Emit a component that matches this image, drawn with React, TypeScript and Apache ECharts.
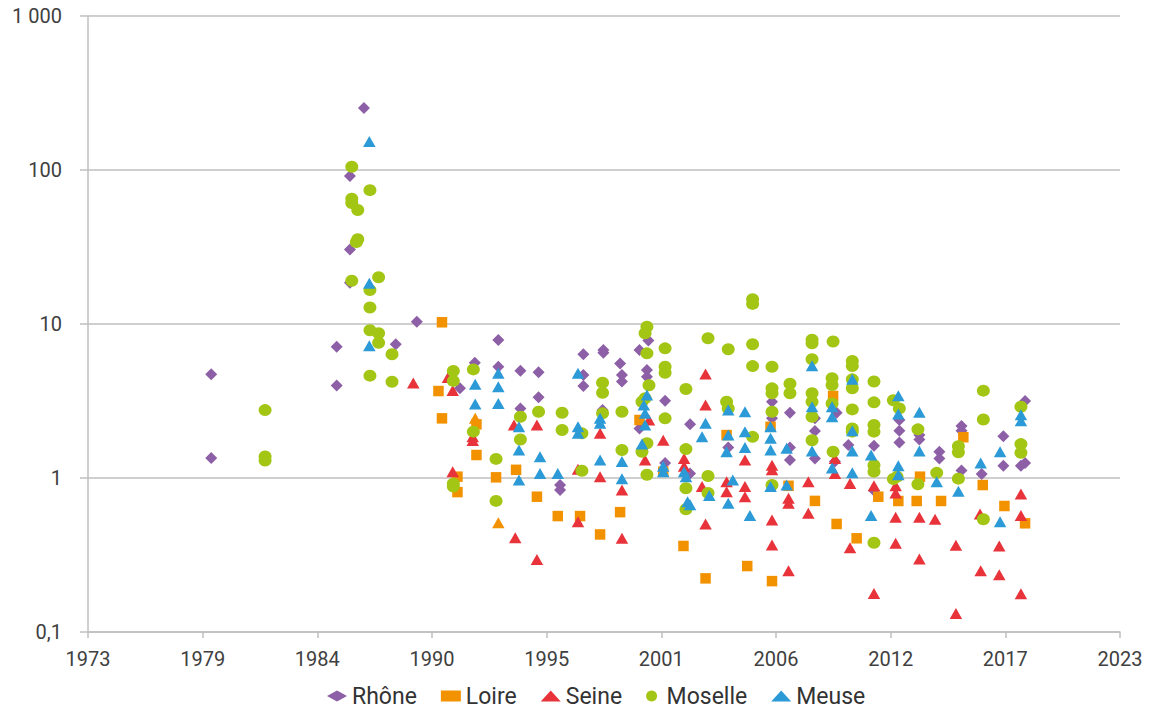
import React, { useEffect, useRef } from "react";
import * as echarts from "echarts";

// Concentration readings per river basin, [year, value] (log scale)
const X_TICK_LABELS = ["1973", "1979", "1984", "1990", "1995", "2001", "2006", "2012", "2017", "2023"];
const X_START = 1973;
const X_END = 2023;
const Y_TICK_LABELS = ["0,1", "1", "10", "100", "1 000"];

const SERIES_NAMES = ["Rhône", "Loire", "Seine", "Moselle", "Meuse"];
const SERIES_COLORS = ["#8d5fa6", "#f39200", "#e8333b", "#a3c614", "#2b9ad6"];

const RHONE: [number, number][] = [
  [1978.97, 4.71], [1978.97, 1.35],
  [1985.05, 7.12], [1985.05, 3.98],
  [1985.69, 91.4], [1985.69, 30.5], [1985.69, 18.5],
  [1986.37, 253],
  [1987.91, 7.38],
  [1988.93, 10.35],
  [1991.02, 3.82],
  [1991.74, 5.6],
  [1992.88, 7.88], [1992.88, 5.28],
  [1993.95, 4.97], [1993.95, 2.83],
  [1994.83, 4.86], [1994.83, 3.34],
  [1995.87, 0.9], [1995.87, 0.836],
  [1997.0, 6.36], [1997.0, 4.67], [1997.0, 3.96],
  [1997.97, 6.78], [1997.97, 6.5], [1997.93, 2.76],
  [1998.78, 5.55], [1998.87, 4.67], [1998.87, 4.23],
  [1999.72, 6.78], [2000.15, 7.8], [2000.08, 5.03], [2000.08, 4.54], [1999.72, 2.1],
  [2000.96, 3.17], [2000.96, 1.25],
  [2002.17, 2.23], [2002.17, 1.07],
  [2004.02, 1.58],
  [2006.14, 3.13], [2006.14, 2.44],
  [2007.01, 2.65], [2007.01, 1.58], [2007.01, 1.31],
  [2008.22, 2.44], [2008.22, 2.02], [2008.22, 1.34],
  [2009.27, 2.65], [2009.19, 1.28],
  [2009.84, 1.64],
  [2011.08, 1.62], [2011.08, 0.83],
  [2012.31, 2.38], [2012.31, 2.03], [2012.31, 1.7],
  [2013.28, 1.9], [2013.28, 1.78],
  [2014.25, 1.48], [2014.25, 1.34],
  [2015.32, 2.18], [2015.32, 2.03], [2015.32, 1.12],
  [2016.3, 1.06],
  [2017.35, 1.87], [2017.35, 1.2],
  [2018.4, 3.16], [2018.2, 1.2], [2018.4, 1.25],
];

const LOIRE: [number, number][] = [
  [1989.98, 3.67], [1990.15, 10.26], [1990.15, 2.44],
  [1990.9, 1.02], [1990.9, 0.81],
  [1991.82, 2.23], [1991.82, 1.41],
  [1992.77, 1.01],
  [1993.74, 1.13],
  [1994.75, 0.756],
  [1995.76, 0.566],
  [1996.84, 0.566],
  [1997.81, 0.43],
  [1998.78, 0.6],
  [1999.72, 2.38],
  [2000.87, 1.1],
  [2001.85, 0.362],
  [2002.92, 0.223],
  [2003.94, 1.9],
  [2004.94, 0.268],
  [2006.07, 2.15],
  [2006.14, 0.214],
  [2006.94, 0.89],
  [2008.22, 0.71],
  [2009.1, 3.41],
  [2009.27, 0.503],
  [2010.24, 0.406],
  [2011.29, 0.756],
  [2012.26, 0.709],
  [2013.31, 1.02], [2013.15, 0.709],
  [2014.33, 0.709],
  [2015.41, 1.84],
  [2016.35, 0.9],
  [2017.4, 0.658],
  [2018.4, 0.508],
];

// Loire readings plotted with a triangle marker
const LOIRE_TRIANGLES: [number, number][] = [
  [1991.76, 2.44], [1992.88, 0.513],
];

const SEINE: [number, number][] = [
  [1988.76, 4.14],
  [1990.44, 4.5], [1990.67, 3.7], [1990.67, 1.1],
  [1991.64, 1.85], [1991.64, 1.75],
  [1993.64, 2.21], [1993.7, 0.41],
  [1994.75, 2.21], [1994.75, 0.296],
  [1996.74, 1.14], [1996.74, 0.52],
  [1997.81, 1.95], [1997.81, 1.02],
  [1998.87, 0.836], [1998.87, 0.406],
  [2000.18, 2.38], [1999.99, 1.31],
  [2000.87, 1.76],
  [2001.88, 1.34], [2001.88, 1.19],
  [2002.92, 4.73], [2002.92, 2.98], [2002.75, 0.88], [2002.92, 0.503],
  [2003.94, 0.946], [2003.94, 0.815],
  [2004.83, 1.31], [2004.83, 0.88], [2004.83, 0.756],
  [2006.14, 1.21], [2006.14, 1.13], [2006.14, 0.534], [2006.14, 0.367],
  [2006.94, 0.74], [2006.94, 0.685], [2006.94, 0.25],
  [2007.9, 0.946], [2007.9, 0.59],
  [2009.19, 1.34], [2009.19, 1.07],
  [2009.92, 0.92], [2009.92, 0.353],
  [2011.08, 0.89], [2011.08, 0.178],
  [2012.13, 0.89], [2012.13, 0.8], [2012.13, 0.556], [2012.13, 0.377],
  [2013.28, 0.556], [2013.28, 0.298],
  [2014.04, 0.54],
  [2015.05, 0.366], [2015.05, 0.132],
  [2016.22, 0.584], [2016.25, 0.25],
  [2017.15, 0.362], [2017.15, 0.235],
  [2018.2, 0.787], [2018.2, 0.57], [2018.2, 0.177],
];

const MOSELLE: [number, number][] = [
  [1981.58, 2.76], [1981.58, 1.38], [1981.58, 1.3],
  [1985.78, 105], [1985.78, 65], [1985.78, 61], [1985.78, 19.1],
  [1986.07, 55], [1986.07, 35.5], [1986.0, 34],
  [1986.66, 74], [1986.66, 16.6], [1986.66, 12.8], [1986.66, 9.1], [1986.66, 4.62],
  [1987.08, 20.1], [1987.08, 8.7], [1987.08, 7.56],
  [1987.73, 6.36], [1987.73, 4.22],
  [1990.7, 4.95], [1990.7, 4.27], [1990.7, 0.92], [1990.7, 0.88],
  [1991.67, 5.07], [1991.67, 2.0],
  [1992.77, 1.33], [1992.77, 0.71],
  [1993.95, 2.5], [1993.95, 1.78],
  [1994.83, 2.69],
  [1995.97, 2.65], [1995.97, 2.05],
  [1996.93, 1.95], [1996.93, 1.115],
  [1997.93, 4.16], [1997.93, 3.58], [1997.93, 2.63],
  [1998.87, 2.69], [1998.87, 1.52],
  [2000.08, 9.6], [1999.99, 8.7], [2000.08, 6.45], [2000.18, 4.0], [1999.84, 3.13], [1999.99, 3.3],
  [2000.08, 1.68], [1999.84, 1.48], [2000.08, 1.05],
  [2000.96, 6.95], [2000.96, 5.28], [2000.96, 4.82], [2000.96, 2.44],
  [2001.97, 3.78], [2001.97, 1.54], [2001.97, 0.857], [2001.97, 0.627],
  [2003.04, 8.08], [2003.04, 1.03], [2003.04, 0.8],
  [2004.02, 6.85], [2003.94, 3.13], [2004.02, 2.83],
  [2005.2, 14.5], [2005.2, 13.5], [2005.2, 7.38], [2005.2, 5.33], [2005.2, 1.85],
  [2006.14, 5.28], [2006.14, 3.82], [2006.14, 3.55], [2006.14, 2.69], [2006.14, 0.9],
  [2007.01, 4.1], [2007.01, 3.55],
  [2008.08, 7.9], [2008.08, 7.5], [2008.08, 5.9], [2008.08, 3.55], [2008.08, 3.13], [2008.08, 2.5], [2008.08, 1.76],
  [2009.1, 7.7], [2009.05, 4.44], [2009.05, 4.01], [2009.05, 3.05], [2009.1, 1.48],
  [2010.03, 5.75], [2010.03, 5.33], [2010.03, 4.37], [2010.03, 3.82], [2010.03, 2.79], [2010.03, 2.1], [2010.03, 2.0],
  [2011.08, 4.23], [2011.08, 3.1], [2011.08, 2.21], [2011.08, 2.0], [2011.08, 1.21], [2011.08, 1.1], [2011.08, 0.38],
  [2012.02, 3.2], [2012.31, 2.83], [2012.02, 0.985], [2012.2, 1.02],
  [2013.21, 2.07], [2013.21, 0.91],
  [2014.12, 1.08],
  [2015.17, 1.61], [2015.17, 1.47], [2015.17, 0.99],
  [2016.38, 3.69], [2016.38, 2.4], [2016.38, 0.54],
  [2018.2, 2.9], [2018.2, 1.66], [2018.2, 1.46],
];

const MEUSE: [number, number][] = [
  [1986.63, 153], [1986.63, 18.4], [1986.63, 7.23],
  [1991.76, 4.06], [1991.76, 3.02],
  [1992.88, 4.78], [1992.88, 3.92], [1992.88, 3.05],
  [1993.88, 2.15], [1993.88, 1.52], [1993.88, 0.97],
  [1994.9, 1.375], [1994.9, 1.07],
  [1995.76, 1.07],
  [1996.74, 4.78], [1996.74, 2.15], [1996.74, 1.95],
  [1997.81, 2.44], [1997.81, 2.27], [1997.81, 1.31],
  [1998.87, 1.28], [1998.87, 0.99],
  [2000.08, 3.46], [1999.93, 2.98], [1999.99, 2.63], [1999.99, 2.21], [1999.84, 1.66],
  [2000.87, 1.19], [2000.87, 1.1],
  [2001.88, 1.1], [2001.97, 1.02], [2002.05, 0.7], [2002.17, 0.67],
  [2002.92, 2.27], [2002.75, 1.85], [2003.1, 0.77],
  [2004.02, 2.76], [2004.02, 1.9], [2003.94, 1.48], [2004.24, 0.97], [2004.02, 0.685],
  [2004.83, 2.69], [2004.83, 2.0], [2004.83, 1.58], [2005.07, 0.57],
  [2006.07, 2.15], [2006.07, 1.81], [2006.07, 1.52], [2006.07, 0.88],
  [2006.85, 1.56], [2006.85, 0.9],
  [2008.08, 5.35], [2008.08, 2.9], [2008.08, 1.5],
  [2009.05, 2.9], [2009.05, 2.5], [2009.05, 1.16],
  [2010.03, 4.37], [2010.03, 2.03], [2010.03, 1.5], [2010.03, 1.08],
  [2010.94, 1.41], [2010.94, 0.57],
  [2012.26, 3.42], [2012.26, 2.6], [2012.26, 1.2], [2012.26, 1.05],
  [2013.28, 2.67], [2013.28, 1.5],
  [2014.12, 0.946],
  [2015.17, 0.82],
  [2016.25, 1.25],
  [2017.19, 1.48], [2017.19, 0.52],
  [2018.2, 2.57], [2018.2, 2.35],
];

// The x axis is laid out in tick units so that ticks fall on the labelled years
const toAxis = (year: number) =>
  ((year - X_START) / (X_END - X_START)) * (X_TICK_LABELS.length - 1);

const toPoints = (rows: [number, number][]) => rows.map(([yr, v]) => [toAxis(yr), v]);

const SYMBOLS = ["diamond", "rect", "triangle", "circle", "triangle"];
const SYMBOL_SIZES: (number | number[])[] = [[12, 12], [10.5, 10.5], [12.5, 11], [13, 12], [12.5, 11]];

const FONT = "Roboto, 'Noto Sans', sans-serif";
const AXIS_GRAY = "#bfbfbf";

export default function App() {
  const ref = useRef<HTMLDivElement>(null);

  useEffect(() => {
    if (!ref.current) return;
    const chart = echarts.init(ref.current, undefined, { renderer: "svg" });

    const loireData: any[] = [
      ...toPoints(LOIRE),
      ...toPoints(LOIRE_TRIANGLES).map((p) => ({
        value: p,
        symbol: "triangle",
        symbolSize: [12.5, 11],
      })),
    ];
    const datasets: any[][] = [
      toPoints(RHONE),
      loireData,
      toPoints(SEINE),
      toPoints(MOSELLE),
      toPoints(MEUSE),
    ];

    const series = SERIES_NAMES.map((name, i) => ({
      name,
      type: "scatter",
      symbol: SYMBOLS[i],
      symbolSize: SYMBOL_SIZES[i],
      itemStyle: { color: SERIES_COLORS[i], opacity: 1 },
      data: datasets[i],
      z: 2 + i,
    }));

    chart.setOption({
      animation: false,
      backgroundColor: "#ffffff",
      textStyle: { fontFamily: FONT },
      grid: { left: 88, right: 31, top: 16, bottom: 79 },
      xAxis: {
        type: "value",
        min: 0,
        max: X_TICK_LABELS.length - 1,
        interval: 1,
        splitLine: { show: false },
        axisLine: { show: true, lineStyle: { color: AXIS_GRAY, width: 1.5 } },
        axisTick: { show: true, length: 6, lineStyle: { color: AXIS_GRAY, width: 1.5 } },
        axisLabel: {
          margin: 17,
          fontSize: 20,
          color: "#404040",
          fontFamily: FONT,
          formatter: (v: number) => X_TICK_LABELS[Math.round(v)] ?? "",
        },
      },
      yAxis: {
        type: "log",
        logBase: 10,
        min: 0.1,
        max: 1000,
        splitLine: { show: true, lineStyle: { color: AXIS_GRAY, width: 1.5 } },
        axisLine: { show: true, lineStyle: { color: AXIS_GRAY, width: 1.5 } },
        axisTick: { show: true, length: 8, lineStyle: { color: AXIS_GRAY, width: 1.5 } },
        axisLabel: {
          margin: 26,
          fontSize: 20,
          color: "#404040",
          fontFamily: FONT,
          formatter: (v: number) => Y_TICK_LABELS[Math.round(Math.log10(v)) + 1] ?? "",
        },
      },
      legend: {
        left: 322,
        top: 678,
        itemWidth: 20,
        itemHeight: 11,
        itemGap: 24,
        selectedMode: false,
        textStyle: { fontSize: 23, lineHeight: 26, color: "#333333", fontFamily: FONT },
        data: SERIES_NAMES.map((name, i) => ({
          name,
          icon: SYMBOLS[i],
          itemStyle: { color: SERIES_COLORS[i] },
        })),
      },
      series,
    });

    return () => chart.dispose();
  }, []);

  return (
    <div
      ref={ref}
      style={{ position: "fixed", left: 0, top: 0, width: 1151, height: 711 }}
    />
  );
}
